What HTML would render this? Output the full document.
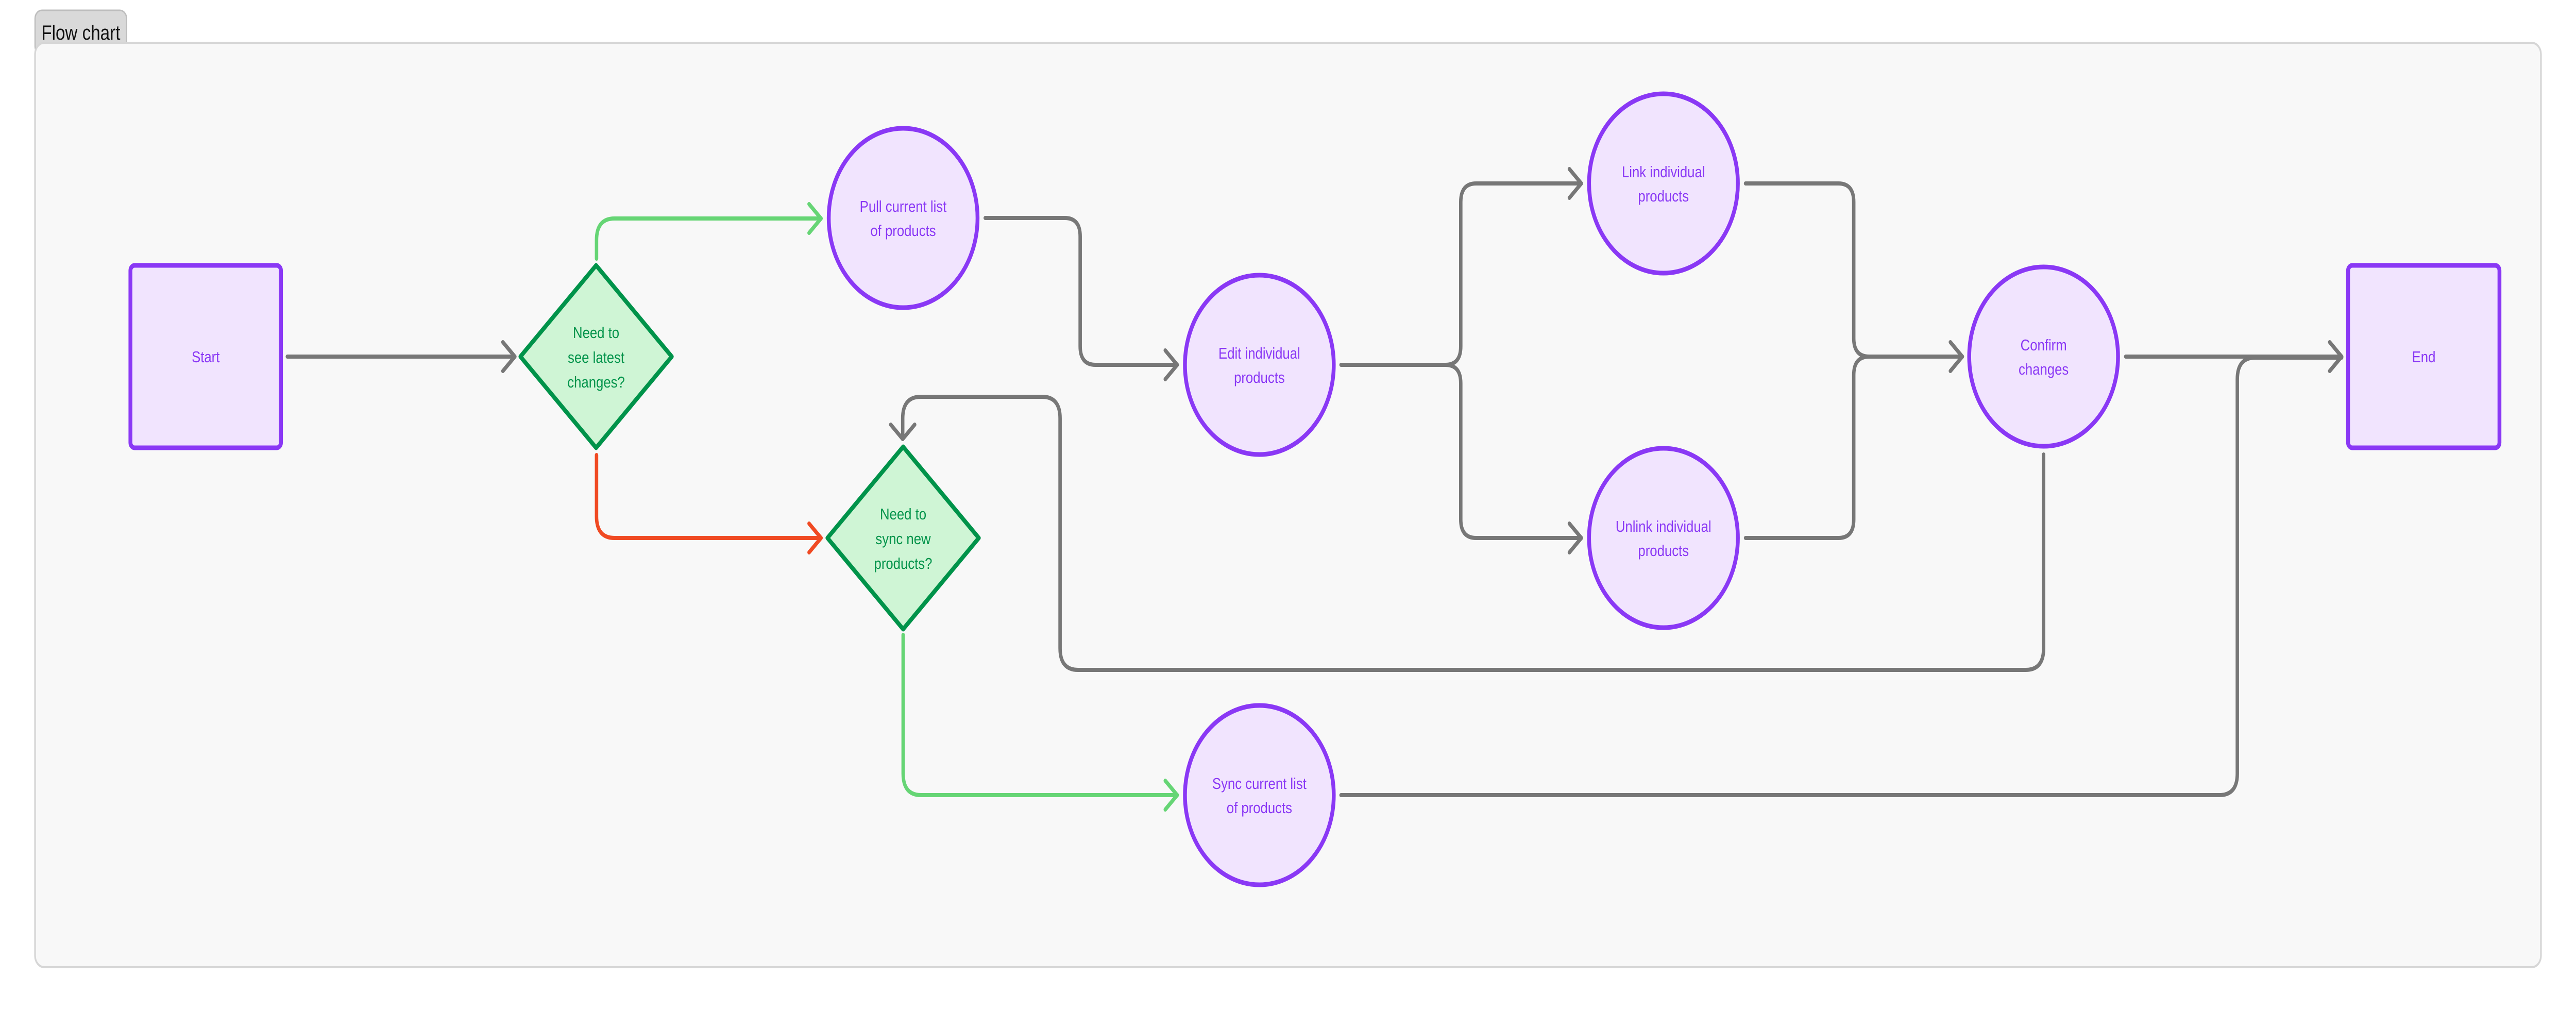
<!DOCTYPE html>
<html><head><meta charset="utf-8"><style>
html,body{margin:0;padding:0;background:#fff;width:100vw;height:100vh;overflow:hidden}
svg{display:block;width:100vw;height:100vh}
text{font-family:"Liberation Sans",sans-serif}
</style></head><body>
<svg viewBox="0 0 6024 1960" preserveAspectRatio="none" xmlns="http://www.w3.org/2000/svg">
<rect x="0" y="0" width="6024" height="1960" fill="#fff"/>
<rect x="82" y="20" width="214" height="86" rx="16" fill="#d9d9d9" stroke="#bdbdbd" stroke-width="3"/>
<text x="189" y="77" font-size="40" text-anchor="middle" fill="#111">Flow chart</text>
<rect x="82" y="83" width="5860" height="1794" rx="22" fill="#f8f8f8" stroke="#d6d6d6" stroke-width="4"/>

<g fill="none" stroke-linecap="round" stroke-linejoin="round" stroke-width="8">
<g stroke="#777">
<path d="M672 692 H1204"/><path d="M1176 664 L1204 692 L1176 720"/>
<path d="M2304 423 H2490 Q2526 423 2526 459 V672 Q2526 708 2562 708 H2753"/><path d="M2725 680 L2753 708 L2725 736"/>
<path d="M3136 708 H3380 Q3416 708 3416 672 V392 Q3416 356 3452 356 H3698"/><path d="M3670 328 L3698 356 L3670 384"/>
<path d="M3380 708 Q3416 708 3416 744 V1008 Q3416 1044 3452 1044 H3698"/><path d="M3670 1016 L3698 1044 L3670 1072"/>
<path d="M4082 356 H4299 Q4335 356 4335 392 V656 Q4335 692 4371 692 H4589"/>
<path d="M4082 1044 H4299 Q4335 1044 4335 1008 V728 Q4335 692 4371 692"/><path d="M4561 664 L4589 692 L4561 720"/>
<path d="M4971 692 H5476"/><path d="M5448 664 L5476 692 L5448 720"/>
<path d="M4779 882 V1258 Q4779 1300 4737 1300 H2521 Q2479 1300 2479 1258 V812 Q2479 770 2437 770 H2153 Q2111 770 2111 812 V852"/><path d="M2083 824 L2111 852 L2139 824"/>
<path d="M3136 1543 H5190 Q5232 1543 5232 1501 V736 Q5232 694 5274 694 H5476"/>
</g>
<path stroke="#66d575" d="M1395 502 V466 Q1395 424 1437 424 H1920"/><path stroke="#66d575" d="M1892 396 L1920 424 L1892 452"/>
<path stroke="#f04a23" d="M1395 883 V1002 Q1395 1044 1437 1044 H1920"/><path stroke="#f04a23" d="M1892 1016 L1920 1044 L1892 1072"/>
<path stroke="#66d575" d="M2112 1232 V1501 Q2112 1543 2154 1543 H2753"/><path stroke="#66d575" d="M2725 1515 L2753 1543 L2725 1571"/>
</g>

<g stroke="#8a38f5" stroke-width="9" fill="#f1e4fe">
<rect x="305" y="515" width="352" height="354" rx="10"/>
<rect x="5491" y="515" width="354" height="354" rx="10"/>
<circle cx="2112" cy="423" r="174"/>
<circle cx="2945" cy="708" r="174"/>
<circle cx="3890" cy="356" r="174"/>
<circle cx="3890" cy="1044" r="174"/>
<circle cx="4779" cy="692" r="174"/>
<circle cx="2945" cy="1543" r="174"/>
</g>
<g stroke="#00934a" stroke-width="9" fill="#cff5d5" stroke-linejoin="round">
<path d="M1394 515 L1571 692 L1394 869 L1217 692 Z"/>
<path d="M2112 867 L2289 1044 L2112 1221 L1935 1044 Z"/>
</g>

<g font-size="31" fill="#8a38f5" text-anchor="middle">
<text x="481" y="703">Start</text>
<text x="5668" y="703">End</text>
<text x="2112" y="411">Pull current list</text><text x="2112" y="458">of products</text>
<text x="2945" y="696">Edit individual</text><text x="2945" y="743">products</text>
<text x="3890" y="344">Link individual</text><text x="3890" y="391">products</text>
<text x="3890" y="1032">Unlink individual</text><text x="3890" y="1079">products</text>
<text x="4779" y="680">Confirm</text><text x="4779" y="727">changes</text>
<text x="2945" y="1531">Sync current list</text><text x="2945" y="1578">of products</text>
</g>
<g font-size="31" fill="#00934a" text-anchor="middle">
<text x="1394" y="656">Need to</text><text x="1394" y="704">see latest</text><text x="1394" y="752">changes?</text>
<text x="2112" y="1008">Need to</text><text x="2112" y="1056">sync new</text><text x="2112" y="1104">products?</text>
</g>
</svg>
</body></html>
